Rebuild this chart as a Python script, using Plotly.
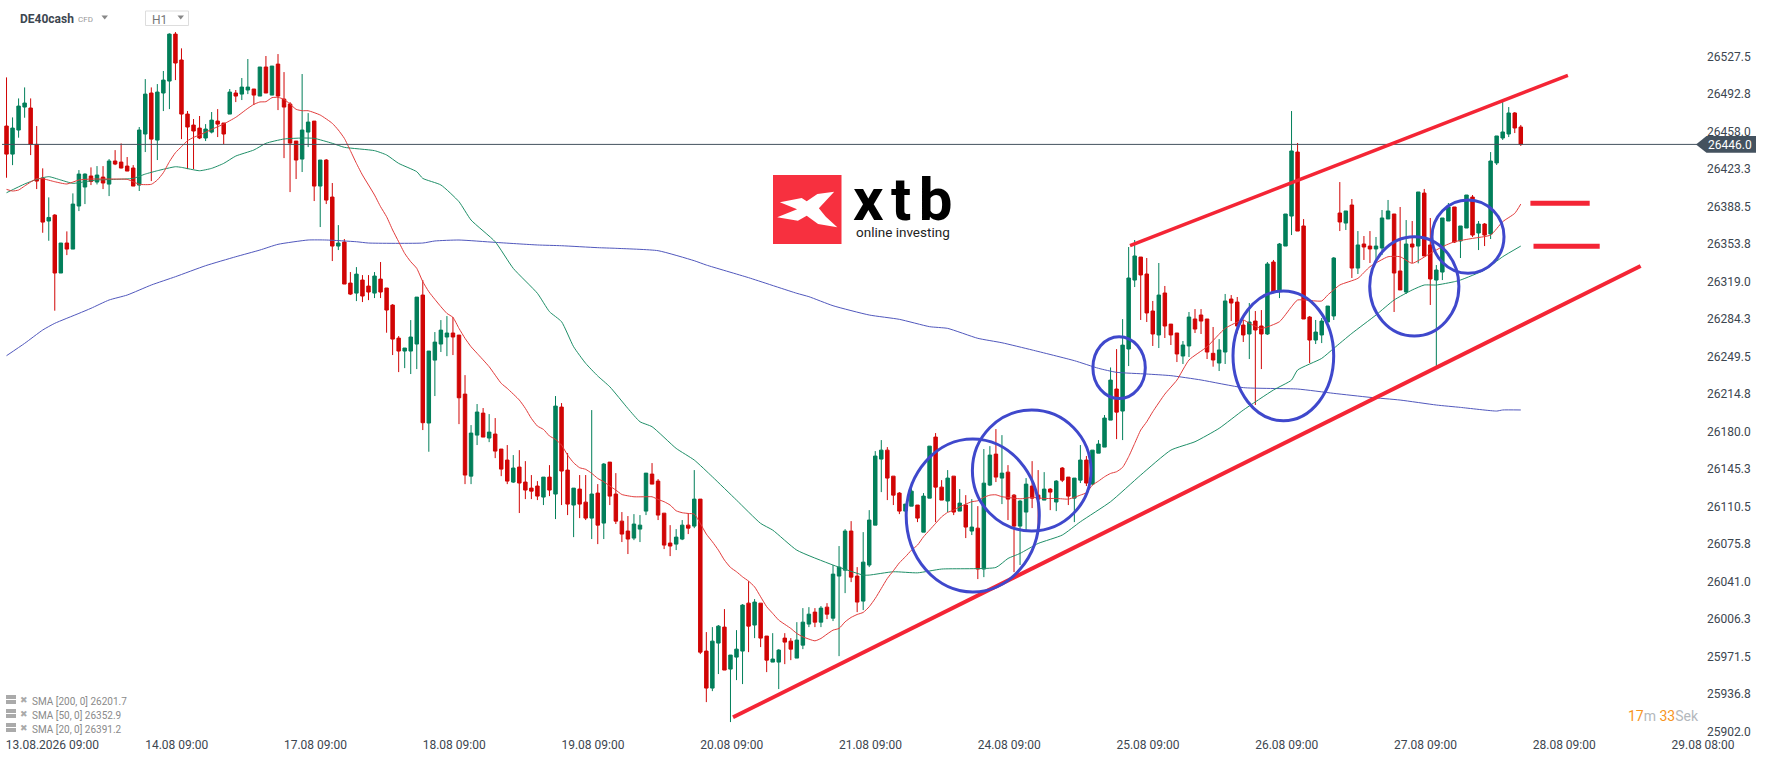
import plotly.graph_objects as go

# all prices below are PRICE_BASE + value
PRICE_BASE = 26000

opens = [463.0,437.0,459.3,480.6,479.7,446.0,414.8,375.0,380.5,326.8,
354.6,349.0,388.9,406.5,416.7,411.1,415.7,409.2,430.6,429.6,
425.9,424.1,408.3,455.6,493.6,450.0,493.6,504.7,548.2,524.2,
474.1,463.9,461.1,451.9,457.4,467.6,465.8,474.1,493.6,492.6,
496.4,497.3,490.8,517.7,491.7,520.4,488.0,483.4,449.1,432.4,
457.4,467.6,407.4,431.5,397.2,351.8,355.5,317.5,308.2,320.3,
314.7,308.2,321.2,312.9,297.1,266.5,254.5,254.5,261.0,306.4,
187.8,246.1,261.0,267.5,271.2,269.3,214.6,138.6,176.6,197.0,
173.9,177.6,163.7,153.5,133.1,147.0,133.1,127.5,129.4,119.2,
137.7,122.0,202.6,144.2,111.8,126.6,114.5,99.7,122.9,95.1,
151.6,122.0,96.9,87.7,81.2,89.5,106.2,140.5,134.0,104.3,
76.6,75.6,80.3,93.2,92.3,117.3,-23.5,-57.8,-16.1,-1.3,
-40.2,-29.1,-23.5,20.9,0.6,20.9,-9.6,-33.7,-33.7,-11.5,
-14.3,-30.0,-18.0,1.5,12.6,3.3,17.2,7.0,46.0,51.5,
87.7,46.0,22.8,56.2,93.2,154.4,162.7,138.6,122.9,106.2,
110.8,111.8,86.7,118.2,174.8,128.4,115.5,138.6,106.2,111.8,
87.7,90.4,52.5,130.3,159.0,136.8,142.3,121.0,92.3,105.3,
129.4,121.0,116.4,126.6,114.6,146.1,137.7,118.2,134.9,153.5,
131.2,159.9,165.5,190.5,219.3,198.9,256.4,320.3,341.6,325.9,
291.6,269.4,308.3,279.5,271.2,249.9,259.2,284.2,287.9,284.2,
252.4,243.4,253.6,302.7,299.9,278.6,270.3,282.3,277.7,270.3,
337.0,310.1,351.8,379.6,438.9,370.4,286.0,264.7,269.4,281.4,
287.0,382.4,373.1,389.8,331.4,353.7,351.8,349.1,350.0,376.9,
381.5,328.7,309.2,353.7,351.8,400.9,352.8,320.3,327.7,375.0,
388.0,356.5,368.5,397.2,363.9,372.2,363.0,428.8,451.9,455.6,
475.1,462.1]

closes = [437.0,461.1,481.5,484.3,446.0,412.0,374.0,378.3,326.8,354.6,
349.0,390.7,418.5,418.5,411.7,417.6,410.2,430.6,427.8,424.1,
421.3,407.4,459.3,492.6,450.9,494.5,505.6,548.2,521.4,474.1,
462.1,458.4,451.9,460.2,468.5,464.8,455.6,494.5,490.8,499.1,
499.1,491.7,517.7,493.6,518.6,490.8,480.6,447.2,431.5,459.3,
466.7,407.4,431.5,394.4,351.8,354.6,316.6,307.3,325.8,305.5,
309.2,324.0,309.2,292.5,265.6,254.5,257.3,267.5,304.5,188.1,
254.5,262.8,273.9,271.2,267.5,211.2,139.6,178.5,198.0,174.8,
179.4,161.8,145.1,134.0,146.1,132.2,125.7,124.7,120.1,137.7,
125.7,203.5,143.3,112.7,127.5,112.7,99.7,122.0,93.2,149.8,
120.1,96.9,84.9,80.3,94.2,93.2,141.4,131.2,102.5,74.7,
73.8,82.1,93.2,90.4,117.3,-24.5,-57.8,-14.3,-0.4,-41.1,
-27.2,-21.7,19.1,-0.4,21.9,-11.5,-31.9,-30.9,-22.6,-15.2,
-21.7,-13.3,3.3,10.7,3.3,16.3,10.7,47.8,54.3,87.7,
45.0,21.9,58.9,97.9,157.2,162.7,136.8,121.0,106.2,112.7,
124.7,99.7,120.1,166.4,128.4,116.4,136.8,105.3,113.6,91.4,
91.4,52.5,132.1,158.1,137.7,141.4,117.3,92.3,115.5,131.2,
118.2,117.3,126.6,123.8,134.0,134.9,120.1,136.8,153.5,132.2,
162.7,168.3,192.4,227.6,197.9,260.0,322.2,342.6,325.0,289.8,
270.3,306.4,277.7,269.4,251.8,260.1,286.0,274.9,282.3,253.6,
246.2,255.5,300.9,299.0,277.7,269.4,281.4,274.0,270.3,335.2,
309.2,353.7,381.5,439.9,365.7,284.2,264.7,272.1,282.3,296.2,
340.7,374.1,384.3,331.4,352.8,350.9,349.1,351.8,377.8,384.3,
326.8,311.1,353.7,350.9,401.9,342.6,321.3,329.6,377.8,388.0,
355.5,370.4,399.1,362.0,372.2,362.0,430.6,453.8,457.5,475.1,
461.2,446.0]

highs = [508.1,471.0,488.6,498.8,488.6,463.0,423.8,396.9,381.4,354.6,
365.4,400.6,422.2,419.1,424.7,425.9,425.9,432.4,440.7,446.9,
434.3,426.8,462.1,506.5,498.8,501.9,514.0,548.9,550.1,535.0,
476.9,469.5,472.3,464.8,476.0,478.7,465.8,497.3,496.4,507.5,
525.1,497.3,517.7,527.9,518.6,529.7,513.0,485.2,449.1,511.2,
475.0,467.6,431.5,432.4,410.2,371.2,358.3,327.7,332.3,324.9,
324.9,327.7,337.0,312.9,298.0,268.4,257.3,283.2,304.5,320.3,
254.5,272.1,283.2,286.9,286.0,269.3,232.2,185.9,205.4,201.7,
196.1,192.4,163.7,167.4,158.1,162.7,152.5,139.6,134.0,137.7,
148.8,212.8,206.3,160.0,127.5,139.6,139.6,199.8,131.2,150.7,
151.6,141.4,105.3,101.6,103.4,102.5,141.4,150.7,135.9,104.3,
93.2,89.5,97.9,104.3,144.2,117.3,-5.9,-1.3,0.6,15.4,
-27.2,-4.1,20.0,41.3,24.7,20.9,-9.6,-6.9,-21.7,-6.9,
-11.5,3.3,16.3,17.2,16.3,18.2,20.9,56.2,73.8,89.5,
96.9,54.3,86.7,107.1,161.8,172.0,165.5,138.6,123.8,112.7,
133.1,111.8,122.9,166.4,178.5,134.9,144.2,138.6,126.6,121.0,
117.3,110.8,163.7,166.4,182.2,176.6,148.8,122.0,116.4,136.8,
152.5,144.2,142.3,127.5,134.9,147.0,137.7,136.8,167.4,157.2,
162.7,172.0,195.2,239.3,256.3,284.1,350.9,357.4,341.6,340.7,
300.9,336.1,314.8,279.5,271.2,263.8,290.7,293.4,293.4,284.2,
276.8,265.6,307.4,306.4,304.6,283.3,299.0,291.6,292.5,337.0,
338.9,354.6,381.5,476.9,447.3,376.8,287.0,283.3,285.1,296.2,
341.6,411.1,384.3,395.4,365.7,361.1,365.7,360.2,385.2,394.5,
381.5,388.0,375.9,375.0,401.9,404.7,377.8,334.2,377.8,391.7,
388.0,370.4,399.1,399.1,375.0,373.1,438.9,453.8,485.3,480.6,
476.0,464.0]

lows = [415.1,426.8,452.2,470.7,436.1,404.6,364.1,356.7,291.9,326.8,
343.4,349.0,384.2,390.7,408.3,408.9,404.6,398.1,426.8,423.8,
421.3,407.4,402.8,438.9,412.0,431.5,476.9,478.7,505.6,450.9,
423.1,423.1,450.9,449.1,456.2,452.8,446.3,474.1,485.2,487.1,
492.6,482.5,490.8,493.6,491.7,477.8,433.3,401.8,413.9,420.4,
443.5,393.5,369.4,390.7,337.9,348.1,316.6,306.4,300.8,299.9,
301.7,303.6,303.6,271.5,250.8,235.0,238.7,233.2,237.8,181.3,
161.2,212.8,253.6,249.8,250.8,186.8,131.2,131.2,167.4,174.8,
170.1,155.3,138.6,131.2,132.2,104.4,117.3,117.3,116.4,111.8,
120.1,98.8,111.8,102.5,82.1,99.7,97.9,80.3,75.6,80.3,
111.8,94.2,77.5,66.4,79.3,77.5,102.5,131.2,97.9,71.0,
64.5,70.1,79.3,84.9,90.4,-26.3,-70.8,-60.6,-44.8,-41.1,
-89.3,-50.4,-54.1,-24.5,-11.5,-19.8,-43.0,-33.7,-58.7,-35.6,
-31.9,-30.0,-21.7,-1.3,-1.3,-1.3,6.1,4.3,-28.2,30.2,
40.4,12.6,14.5,54.3,93.2,123.8,116.4,111.8,103.4,106.2,
110.8,96.0,86.7,118.2,96.0,116.4,105.3,102.5,106.2,81.2,
84.0,43.2,45.0,129.4,133.1,112.7,97.9,49.7,56.2,88.6,
109.0,88.6,116.4,107.1,106.2,133.1,111.8,96.0,132.2,129.4,
130.3,159.9,165.5,190.5,172.9,172.0,240.6,313.8,283.3,281.4,
259.2,257.3,266.6,260.1,244.3,242.5,249.0,271.2,270.3,247.1,
240.0,236.0,242.5,282.3,270.9,262.9,247.1,204.5,237.8,269.4,
308.0,303.6,351.8,362.0,365.7,284.2,243.4,261.0,261.9,281.4,
283.3,365.7,366.7,322.2,325.9,338.9,336.1,338.9,343.5,376.9,
290.7,311.1,307.4,336.1,335.8,342.6,297.2,240.6,320.3,375.0,
354.6,340.7,368.5,360.2,348.1,351.8,358.3,426.9,450.1,452.8,
456.5,444.5]

# moving averages, read at the candle numbers given
sma20_bars = [0,1,2,3,4,5,6,8,10,12,14,18,20,21,22,24,25,26,27,28,29,30,31,32,34,36,38,40,41,42,43,44,45,46,47,48,49,50,52,54,55,56,57,58,59,60,61,62,63,64,65,66,67,68,69,70,71,72,73,74,75,76,77,78,80,82,83,85,86,87,88,89,90,91,92,93,94,95,96,97,98,99,100,101,102,104,106,107,108,109,110,111,112,113,114,115,116,117,118,119,120,121,122,123,124,125,126,127,128,130,131,132,134,135,136,137,138,139,140,141,142,143,144,145,146,147,148,149,150,151,152,153,154,155,156,157,158,159,160,161,162,163,164,165,166,168,170,172,174,176,177,178,179,180,181,182,183,184,185,186,187,188,189,190,192,194,196,199,202,205,206,208,211,213,214,218,219,221,224,226,229,231,233,236,238,240,243,246,248,250,251]
sma20_vals = [404.3,402.8,403.7,407.4,411.1,414.2,414.2,411.4,409.3,413,413.9,413.9,413.6,411.4,409,409,413,419.8,430,438.3,443.9,449.4,452.5,454.7,459.9,464.9,471.1,479.4,483.1,485.3,485.6,489.3,489.6,487.7,483.4,478.5,477.2,477.2,473.2,465.5,459.3,451.6,440.2,428.4,417.6,408.4,399.1,388.3,379,366.7,355.8,345,337.3,331.1,318.8,309.5,302.4,295.6,289.4,285.7,275.5,266.3,258.5,252.4,240,224.6,219.9,209.1,201.4,192.1,185,181.9,175.8,172.7,167.4,158.1,151,146.4,144.9,141.2,136.5,133.4,129.4,125.7,121.6,119.5,119.5,119.5,117,114.9,111.8,106.5,104.7,104,103.4,94.8,84.9,77.8,70,60.8,54,50,45.3,41.3,36,26.8,17.6,11.4,5.2,-2.5,-7.2,-10.3,-14,-11.8,-7.8,-4.1,-2.5,3.6,7.7,10.4,12.3,17.6,25.3,34.5,43.8,50.9,58.3,63.9,70,74.7,82.4,88.6,94.8,100.9,105,107.1,110.2,112.7,114.9,115.8,118.9,121,121.3,119.5,118.9,117.6,118.9,117.9,117.9,117.3,118.9,121,123.2,130.3,134,138,141.1,142.7,146.7,156.6,168.9,181.3,189,198.3,214.6,227.6,246.2,258.5,275.5,283.3,280.2,275.5,281.7,295.6,301.8,300.9,306.4,315.7,321.9,332.7,341.9,341.9,335.8,345,351.2,355.8,358.9,362,374.4,382.1,390.7]

sma50_bars = [0,3,5,7,9,11,13,15,18,21,23,25,28,29,32,34,36,38,41,43,46,49,51,54,56,61,63,65,68,69,72,75,77,81,84,88,90,92,94,96,98,100,103,105,107,111,114,117,121,125,127,131,137,142,143,147,151,155,164,166,168,171,175,178,183,188,193,197,201,205,210,213,214,218,220,223,227,230,233,235,237,240,241,245,248,251]
sma50_vals = [401.2,409.3,413.6,416.1,413,409.9,411.4,413,413.6,414.5,418.5,421.6,425.3,424.7,421.6,423.8,428.4,435.2,440.8,447,451,451.9,451.6,447,443.3,440.2,436.2,428.4,420.7,414.5,408.4,392.9,375.9,355.8,331.1,308,291,281.7,258.5,243.1,231.4,221.4,201.3,189,184.4,164.3,153.5,138,116.4,94.8,88.6,70,56.2,46.9,46.9,50,49,52.5,54,62.3,67,76.2,84,96.3,114.9,139.6,162.7,170.5,182.9,199.8,218.4,227.6,236.9,247.7,257,270.9,287.9,301.8,311.1,315.7,315.7,318.8,320.3,329.6,341.9,351.8]

sma200_bars = [0,3,6,8,12,14,17,20,24,28,33,38,42,45,50,53,58,60,69,71,75,81,88,92,98,101,108,114,116,123,131,133,137,143,148,153,156,161,165,170,177,181,184,189,193,198,205,214,220,226,231,237,241,247,248,251]
sma200_vals = [250.2,261.6,274,280.2,289.4,294.1,301.8,306.4,315.7,323.4,333.6,341.9,348.1,353.4,357.4,357.4,355.8,354.6,354.6,356.5,357.4,355.2,352.8,352.1,350.3,349.7,347.5,338.2,334.2,322.5,308,304.9,296.5,287.9,283.9,277.1,275.5,266.3,262.2,255.5,245.6,238.5,234.8,233.2,231.7,227.7,220.6,219.3,215.3,211.6,209.1,204.5,202.3,198.9,199.9,199.9]

price_ticks = [26527.5,26492.8,26458.0,26423.3,26388.5,26353.8,26319.0,26284.3,26249.5,26214.8,26180.0,26145.3,26110.5,26075.8,26041.0,26006.3,25971.5,25936.8,25902.0]
time_ticks = [7.6,28.2,51.2,74.2,97.2,120.2,143.2,166.2,189.2,212.2,235.2,258.2,281.2]
time_labels = ["13.08.2026 09:00","14.08 09:00","17.08 09:00","18.08 09:00","19.08 09:00","20.08 09:00","21.08 09:00","24.08 09:00","25.08 09:00","26.08 09:00","27.08 09:00","28.08 09:00","29.08 08:00"]
sma_legend = ["SMA [200, 0] 26201.7","SMA [50, 0] 26352.9","SMA [20, 0] 26391.2"]
last_price = 26446.0

GREEN = "#027f5a"
RED = "#d10505"
DRAW_RED = "#f42535"
DRAW_BLUE = "#3f48cc"
SLATE = "#44525f"

# size of the plot area in pixels, the drawn overlays are placed in pixels
PLOT_W = 1706
PLOT_H = 736


def px(x):
    return x / PLOT_W


def py(y):
    return 1 - y / PLOT_H


def add(values):
    return [PRICE_BASE + v for v in values]


def line(x0, y0, x1, y1, color, width):
    return dict(type="line", xref="paper", yref="paper", x0=px(x0), y0=py(y0), x1=px(x1), y1=py(y1),
                line=dict(color=color, width=width))


def ellipse(x0, y0, x1, y1):
    return dict(type="circle", xref="paper", yref="paper", x0=px(x0), y0=py(y0), x1=px(x1), y1=py(y1),
                line=dict(color=DRAW_BLUE, width=3))


def polygon(points, color):
    path = "M " + " L ".join(f"{px(x)} {py(y)}" for x, y in points) + " Z"
    return dict(type="path", xref="paper", yref="paper", path=path, fillcolor=color, line=dict(width=0))


def label(x, y, text, size=12, color="#3c4650", anchor="left", bold=False):
    if bold:
        text = "<b>" + text + "</b>"
    return dict(xref="paper", yref="paper", x=px(x), y=py(y), text=text, showarrow=False,
                xanchor=anchor, yanchor="middle", borderpad=0,
                font=dict(family="Roboto", size=size, color=color))


def sma_line(bars, vals, color):
    return go.Scatter(x=bars, y=add(vals), mode="lines",
                      line=dict(color=color, width=1, shape="spline", smoothing=0.5))


fig = go.Figure()
fig.add_trace(go.Candlestick(
    x=list(range(len(opens))),
    open=add(opens), high=add(highs), low=add(lows), close=add(closes),
    whiskerwidth=0,
    increasing=dict(line=dict(color=GREEN, width=1), fillcolor=GREEN),
    decreasing=dict(line=dict(color=RED, width=1), fillcolor=RED),
))
fig.add_trace(sma_line(sma200_bars, sma200_vals, "#5158bd"))
fig.add_trace(sma_line(sma50_bars, sma50_vals, "#1f8f68"))
fig.add_trace(sma_line(sma20_bars, sma20_vals, "#e23b3b"))

shapes = [
    line(2, 144.4, 1700, 144.4, SLATE, 1),
    polygon([(1696, 144.4), (1706.5, 136), (1756, 136), (1756, 152.8), (1706.5, 152.8)], SLATE),
    # drawn trend lines and levels
    line(733, 717.3, 1640.6, 266, DRAW_RED, 4),
    line(1130, 245.7, 1567.9, 75.3, DRAW_RED, 3.5),
    line(1530.4, 203.3, 1589.7, 203.3, DRAW_RED, 5),
    line(1533.5, 246.3, 1599.7, 246.3, DRAW_RED, 5),
    # drawn circles
    ellipse(906.2, 439, 1039.3, 592),
    ellipse(972.4, 410, 1091, 531),
    ellipse(1092.9, 336.7, 1145.3, 398.6),
    ellipse(1233, 291, 1333.7, 420.7),
    ellipse(1369.7, 236.7, 1458.9, 336),
    ellipse(1432, 200, 1504, 273.3),
    # logo
    dict(type="rect", xref="paper", yref="paper", x0=px(773), y0=py(175), x1=px(841.5), y1=py(244),
         fillcolor="#f7303f", line=dict(width=0)),
    polygon([(779.9, 202.3), (801.7, 198), (806.7, 201.3), (817.4, 194), (834.2, 191.7), (818.9, 208.3),
             (825.8, 216.7), (837.3, 227.3), (818.1, 224), (806.7, 215.7), (797.9, 220.7), (777.2, 217.3),
             (797.1, 209.3)], "white"),
    # symbol box
    dict(type="rect", xref="paper", yref="paper", x0=px(145.5), y0=py(11), x1=px(188.5), y1=py(25.5),
         line=dict(color="#dddddd", width=1), fillcolor="white"),
    polygon([(101.5, 15.5), (108, 15.5), (104.7, 19.5)], "#888888"),
    polygon([(177.5, 15.5), (184, 15.5), (180.7, 19.5)], "#888888"),
]

logo_gap = '<span style="font-size:30px"> </span>'
logo_text = label(903, 199.5, "x" + logo_gap + "t" + logo_gap + "b", size=60, color="black", anchor="center", bold=True)
logo_text["font"]["weight"] = 900

annotations = [
    label(19, 19, "DE40cash", size=12, bold=True),
    label(76.5, 19.5, "CFD", size=8, color="#999999"),
    label(151, 20, "H1", size=12, color="#777777"),
    label(1730.5, 145, f"{last_price:.1f}", size=12, color="white", anchor="center"),
    logo_text,
    label(903, 232, "online investing", size=13.5, color="#222222", anchor="center"),
    label(1700, 716, '<span style="color:#f7941d">17</span>m <span style="color:#f7941d">33</span>Sek',
          size=14, color="#b4b8bc", anchor="right"),
]

for row, text in enumerate(sma_legend):
    y = 701 + 14 * row
    shapes.append(dict(type="rect", xref="paper", yref="paper", x0=px(6), y0=py(y - 6), x1=px(16), y1=py(y + 3),
                       fillcolor="#aaaaaa", line=dict(width=0)))
    shapes.append(line(6, y - 1.5, 16, y - 1.5, "white", 1))
    annotations.append(label(19, y - 1, "✖", size=9, color="#aaaaaa"))
    annotations.append(label(30.5, y, text, size=10, color="#8a8a8a"))

fig.update_layout(
    width=1768,
    height=761,
    autosize=False,
    margin=dict(l=0, r=62, t=0, b=25),
    paper_bgcolor="white",
    plot_bgcolor="white",
    showlegend=False,
    boxgap=0.18,
    shapes=shapes,
    annotations=annotations,
    font=dict(family="Roboto", size=12, color="#3c4650"),
    xaxis=dict(
        range=[-1.08, 281.7],
        rangeslider=dict(visible=False),
        showgrid=False,
        zeroline=False,
        tickmode="array",
        tickvals=time_ticks,
        ticktext=time_labels,
        ticks="",
    ),
    yaxis=dict(
        side="right",
        range=[25897.8, 26579.8],
        showgrid=False,
        zeroline=False,
        tickmode="array",
        tickvals=price_ticks,
        ticktext=[f"{v:.1f}" for v in price_ticks],
        ticks="",
    ),
)

fig.write_html("out.html", config=dict(displayModeBar=False), post_script="document.body.style.margin='0';")
